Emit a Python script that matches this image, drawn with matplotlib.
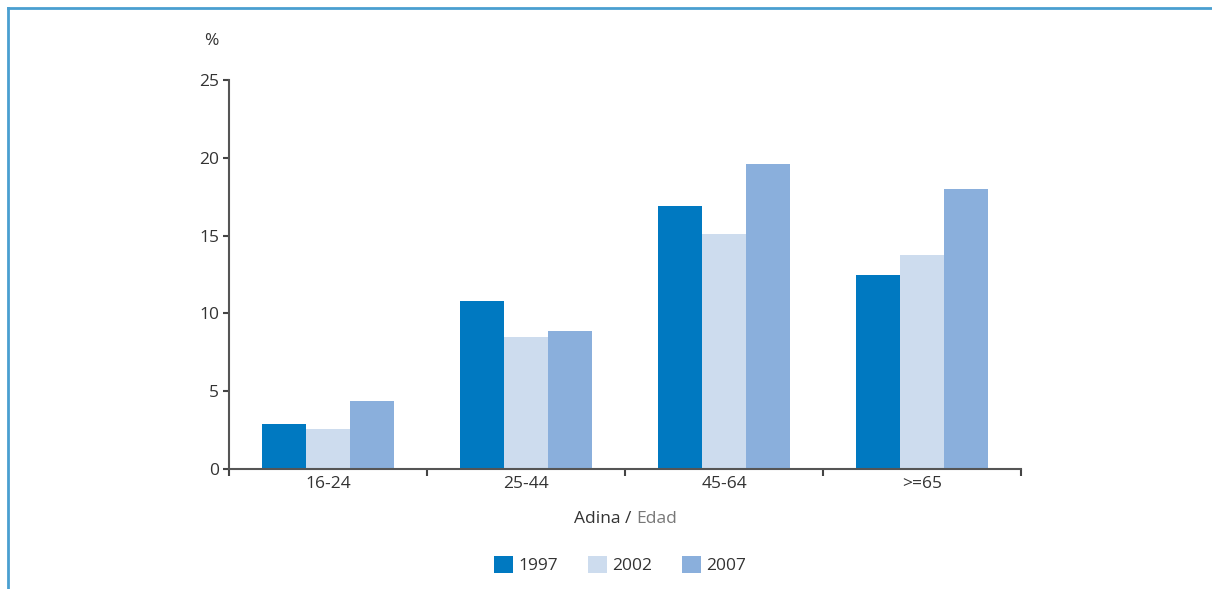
import matplotlib.pyplot as plt
import numpy as np

plt.rcParams['font.family'] = ['Open Sans', 'DejaVu Sans']

categories = ['16-24', '25-44', '45-64', '>=65']
years = ['1997', '2002', '2007']
v1997 = [2.9, 10.8, 16.9, 12.5]
v2002 = [2.6, 8.5, 15.1, 13.75]
v2007 = [4.4, 8.9, 19.6, 18.0]
colors = ['#0079c1', '#cddcee', '#8aafdc']
yticks = [0, 5, 10, 15, 20, 25]

fs = 12.5
fig = plt.figure(figsize=(12.12, 5.89), dpi=100)
ax = fig.add_axes([229 / 1212, 1 - 469 / 589, (1021 - 229) / 1212, (469 - 80) / 589])

# blue frame lines top and left
fig.add_artist(plt.Line2D([8 / 1212, 8 / 1212], [0, 1 - 8 / 589], transform=fig.transFigure,
                          color='#4a9fd0', lw=2))
fig.add_artist(plt.Line2D([8 / 1212, 1], [1 - 8 / 589, 1 - 8 / 589], transform=fig.transFigure,
                          color='#4a9fd0', lw=2))

x = np.arange(len(categories))
w = 0.222
for i, (vals, c) in enumerate(zip([v1997, v2002, v2007], colors)):
    ax.bar(x + (i - 1) * w, vals, width=w, color=c, label=years[i], zorder=2)

ax.set_xlim(-0.5, len(categories) - 0.5)
ax.set_ylim(0, 25)
ax.set_yticks(yticks)
ax.set_xticks(x)
ax.set_xticklabels(categories)
ax.set_xticks(np.arange(-0.5, len(categories)), minor=True)
ax.tick_params(axis='x', which='major', length=0, labelsize=fs, labelcolor='#333333', pad=5)
ax.tick_params(axis='x', which='minor', length=5, width=1.5, color='#444444', direction='out')
ax.tick_params(axis='y', length=4, width=1.5, color='#444444', labelsize=fs,
               labelcolor='#333333', pad=3)

for s in ['top', 'right']:
    ax.spines[s].set_visible(False)
for s in ['left', 'bottom']:
    ax.spines[s].set_color('#555555')
    ax.spines[s].set_linewidth(1.5)

fig.text(211 / 1212, 1 - 41 / 589, '%', fontsize=fs, color='#333333', ha='center', va='center')

# x axis title
fig.text(636 / 1212, 1 - 519 / 589, 'Adina / ', fontsize=fs, color='#333333',
         ha='right', va='center')
fig.text(636 / 1212, 1 - 519 / 589, 'Edad', fontsize=fs, color='#777777',
         ha='left', va='center')

handles, labels = ax.get_legend_handles_labels()
fig.legend(handles, labels, loc='center', bbox_to_anchor=(620 / 1212, 1 - 565 / 589),
           ncol=3, frameon=False, fontsize=fs, handlelength=1.1, handleheight=1.1,
           columnspacing=1.7, handletextpad=0.3, labelcolor='#333333')

fig.savefig('out.png', dpi=100)
